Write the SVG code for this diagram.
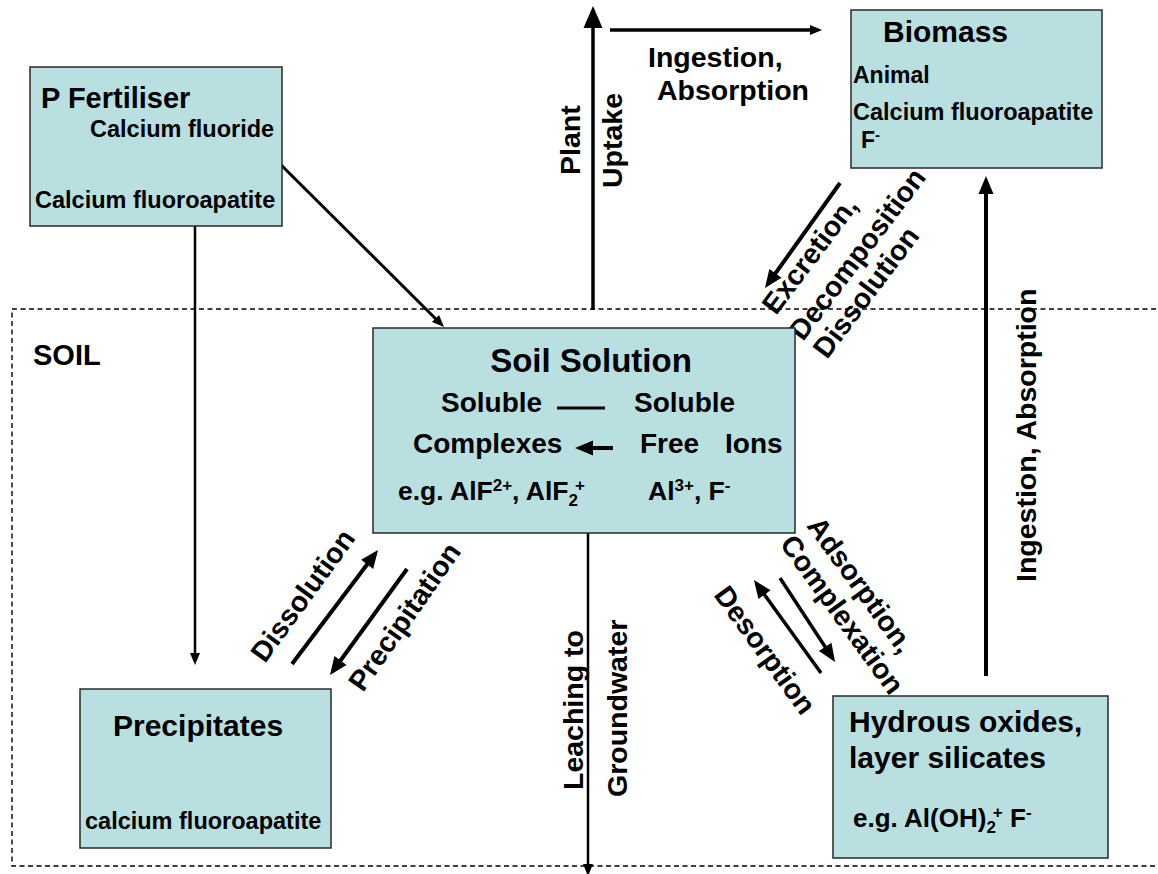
<svg xmlns="http://www.w3.org/2000/svg" width="1158" height="874" viewBox="0 0 1158 874">
<style>
  text { font-family: "Liberation Sans", Arial, sans-serif; font-weight: bold; fill: #000; }
  .box { fill: #B9DFE0; stroke: #2a2a2a; stroke-width: 1.5; }
  .lbl { font-size: 28.5px; }
  .big { font-size: 30px; }
  .sm { font-size: 23.5px; }
  .mid { font-size: 28px; }
  .ln { stroke: #000; fill: none; stroke-linecap: butt; }
  .soil { fill: none; stroke: #000; stroke-width: 1.4; stroke-dasharray: 5 3.5; }
</style>
<defs>
  <marker id="ahBig" markerUnits="userSpaceOnUse" markerWidth="22" markerHeight="19" refX="17" refY="9.5" orient="auto" overflow="visible">
    <path d="M0,0 L22,9.5 L0,19 z" fill="#000"/>
  </marker>
  <marker id="ahMed" markerUnits="userSpaceOnUse" markerWidth="18" markerHeight="15" refX="13" refY="7.5" orient="auto" overflow="visible">
    <path d="M0,0 L18,7.5 L0,15 z" fill="#000"/>
  </marker>
  <marker id="ahSm" markerUnits="userSpaceOnUse" markerWidth="12" markerHeight="10" refX="8" refY="5" orient="auto" overflow="visible">
    <path d="M0,0 L12,5 L0,10 z" fill="#000"/>
  </marker>
</defs>

<rect class="soil" x="12" y="309" width="1160" height="557"/>
<text x="33" y="365" style="font-size:29px">SOIL</text>

<g id="connectors">
  <line class="ln" x1="593" y1="310" x2="593" y2="11" stroke-width="3.5" marker-end="url(#ahBig)"/>
  <line class="ln" x1="610" y1="30" x2="818" y2="30" stroke-width="3.5" marker-end="url(#ahSm)"/>
  <line class="ln" x1="263" y1="147" x2="441.2" y2="324.2" stroke-width="3" marker-end="url(#ahSm)"/>
  <line class="ln" x1="195" y1="212" x2="195" y2="661" stroke-width="2.5" marker-end="url(#ahSm)"/>
  <line class="ln" x1="588" y1="533" x2="588" y2="872" stroke-width="2.5" marker-end="url(#ahSm)"/>
  <line class="ln" x1="840" y1="183" x2="767.9" y2="283.9" stroke-width="4" marker-end="url(#ahMed)"/>
  <line class="ln" x1="986" y1="676" x2="986" y2="181" stroke-width="4" marker-end="url(#ahMed)"/>
  <line class="ln" x1="292" y1="664" x2="375" y2="554" stroke-width="4" marker-end="url(#ahMed)"/>
  <line class="ln" x1="407" y1="569" x2="332.9" y2="671" stroke-width="4" marker-end="url(#ahMed)"/>
  <line class="ln" x1="780" y1="578" x2="832.3" y2="657.8" stroke-width="3.5" marker-end="url(#ahMed)"/>
  <line class="ln" x1="821" y1="673" x2="756.9" y2="584.1" stroke-width="3.5" marker-end="url(#ahMed)"/>

  <text class="lbl" x="648" y="67">Ingestion,</text>
  <text class="lbl" x="657" y="100">Absorption</text>
  <text class="lbl" transform="translate(580,175) rotate(-90)">Plant</text>
  <text class="lbl" transform="translate(622,188) rotate(-90)">Uptake</text>
  <text class="lbl" transform="translate(583,790) rotate(-90)">Leaching to</text>
  <text class="lbl" transform="translate(627,797) rotate(-90)">Groundwater</text>
  <text class="lbl" transform="translate(1036,582) rotate(-90)">Ingestion, Absorption</text>
  <text class="lbl" transform="translate(776,316) rotate(-53)">Excretion,</text>
  <text class="lbl" transform="translate(803,342) rotate(-53)">Decomposition</text>
  <text class="lbl" transform="translate(827,360) rotate(-53)">Dissolution</text>
  <text class="lbl" transform="translate(265,664) rotate(-54)">Dissolution</text>
  <text class="lbl" transform="translate(363,693) rotate(-55)">Precipitation</text>
  <text class="lbl" transform="translate(806,526) rotate(54)">Adsorption,</text>
  <text class="lbl" transform="translate(779,544) rotate(54)">Complexation</text>
  <text class="lbl" transform="translate(713,595) rotate(54)">Desorption</text>
</g>

<g id="fertiliser">
  <rect class="box" x="30" y="67" width="252" height="159"/>
  <text x="41" y="108" style="font-size:29px">P Fertiliser</text>
  <text class="sm" x="90" y="137">Calcium fluoride</text>
  <text class="sm" x="35" y="208">Calcium fluoroapatite</text>
</g>

<g id="biomass">
  <rect class="box" x="851" y="10" width="251" height="158"/>
  <text x="883" y="42" style="font-size:30px">Biomass</text>
  <text x="853" y="83" style="font-size:23px">Animal</text>
  <text class="sm" x="853" y="120">Calcium fluoroapatite</text>
  <text x="861" y="148" style="font-size:23px">F<tspan dy="-8" style="font-size:15px">-</tspan></text>
</g>

<g id="soil-solution">
  <rect class="box" x="373" y="328" width="422" height="205"/>
  <text x="591" y="372" text-anchor="middle" style="font-size:33px">Soil Solution</text>
  <text class="mid" x="441" y="412">Soluble</text>
  <line x1="557" y1="408" x2="605" y2="408" stroke="#000" stroke-width="3"/>
  <text class="mid" x="634" y="412">Soluble</text>
  <text class="mid" x="413" y="453">Complexes</text>
  <line class="ln" x1="613" y1="448" x2="580" y2="448" stroke-width="4" marker-end="url(#ahMed)"/>
  <text class="mid" x="640" y="453">Free</text>
  <text class="mid" x="725" y="453">Ions</text>
  <text x="398" y="500" style="font-size:26.5px">e.g. AlF<tspan dy="-9" style="font-size:17px">2+</tspan><tspan dy="9">, AlF</tspan><tspan dy="6" style="font-size:17px">2</tspan><tspan dx="-3" dy="-15" style="font-size:17px">+</tspan></text>
  <text x="648" y="500" style="font-size:26.5px">Al<tspan dy="-9" style="font-size:17px">3+</tspan><tspan dy="9">, F</tspan><tspan dy="-9" style="font-size:17px">-</tspan></text>
</g>

<g id="precipitates">
  <rect class="box" x="80" y="689" width="251" height="159"/>
  <text class="big" x="113" y="736">Precipitates</text>
  <text class="sm" x="85" y="829">calcium fluoroapatite</text>
</g>

<g id="hydrous">
  <rect class="box" x="833" y="696" width="275" height="162"/>
  <text class="big" x="849" y="732">Hydrous oxides,</text>
  <text class="big" x="849" y="768">layer silicates</text>
  <text x="853" y="827" style="font-size:26px">e.g. Al(OH)<tspan dy="6" style="font-size:17px">2</tspan><tspan dx="-3" dy="-15" style="font-size:17px">+</tspan><tspan dy="9"> F</tspan><tspan dy="-9" style="font-size:17px">-</tspan></text>
</g>
</svg>
